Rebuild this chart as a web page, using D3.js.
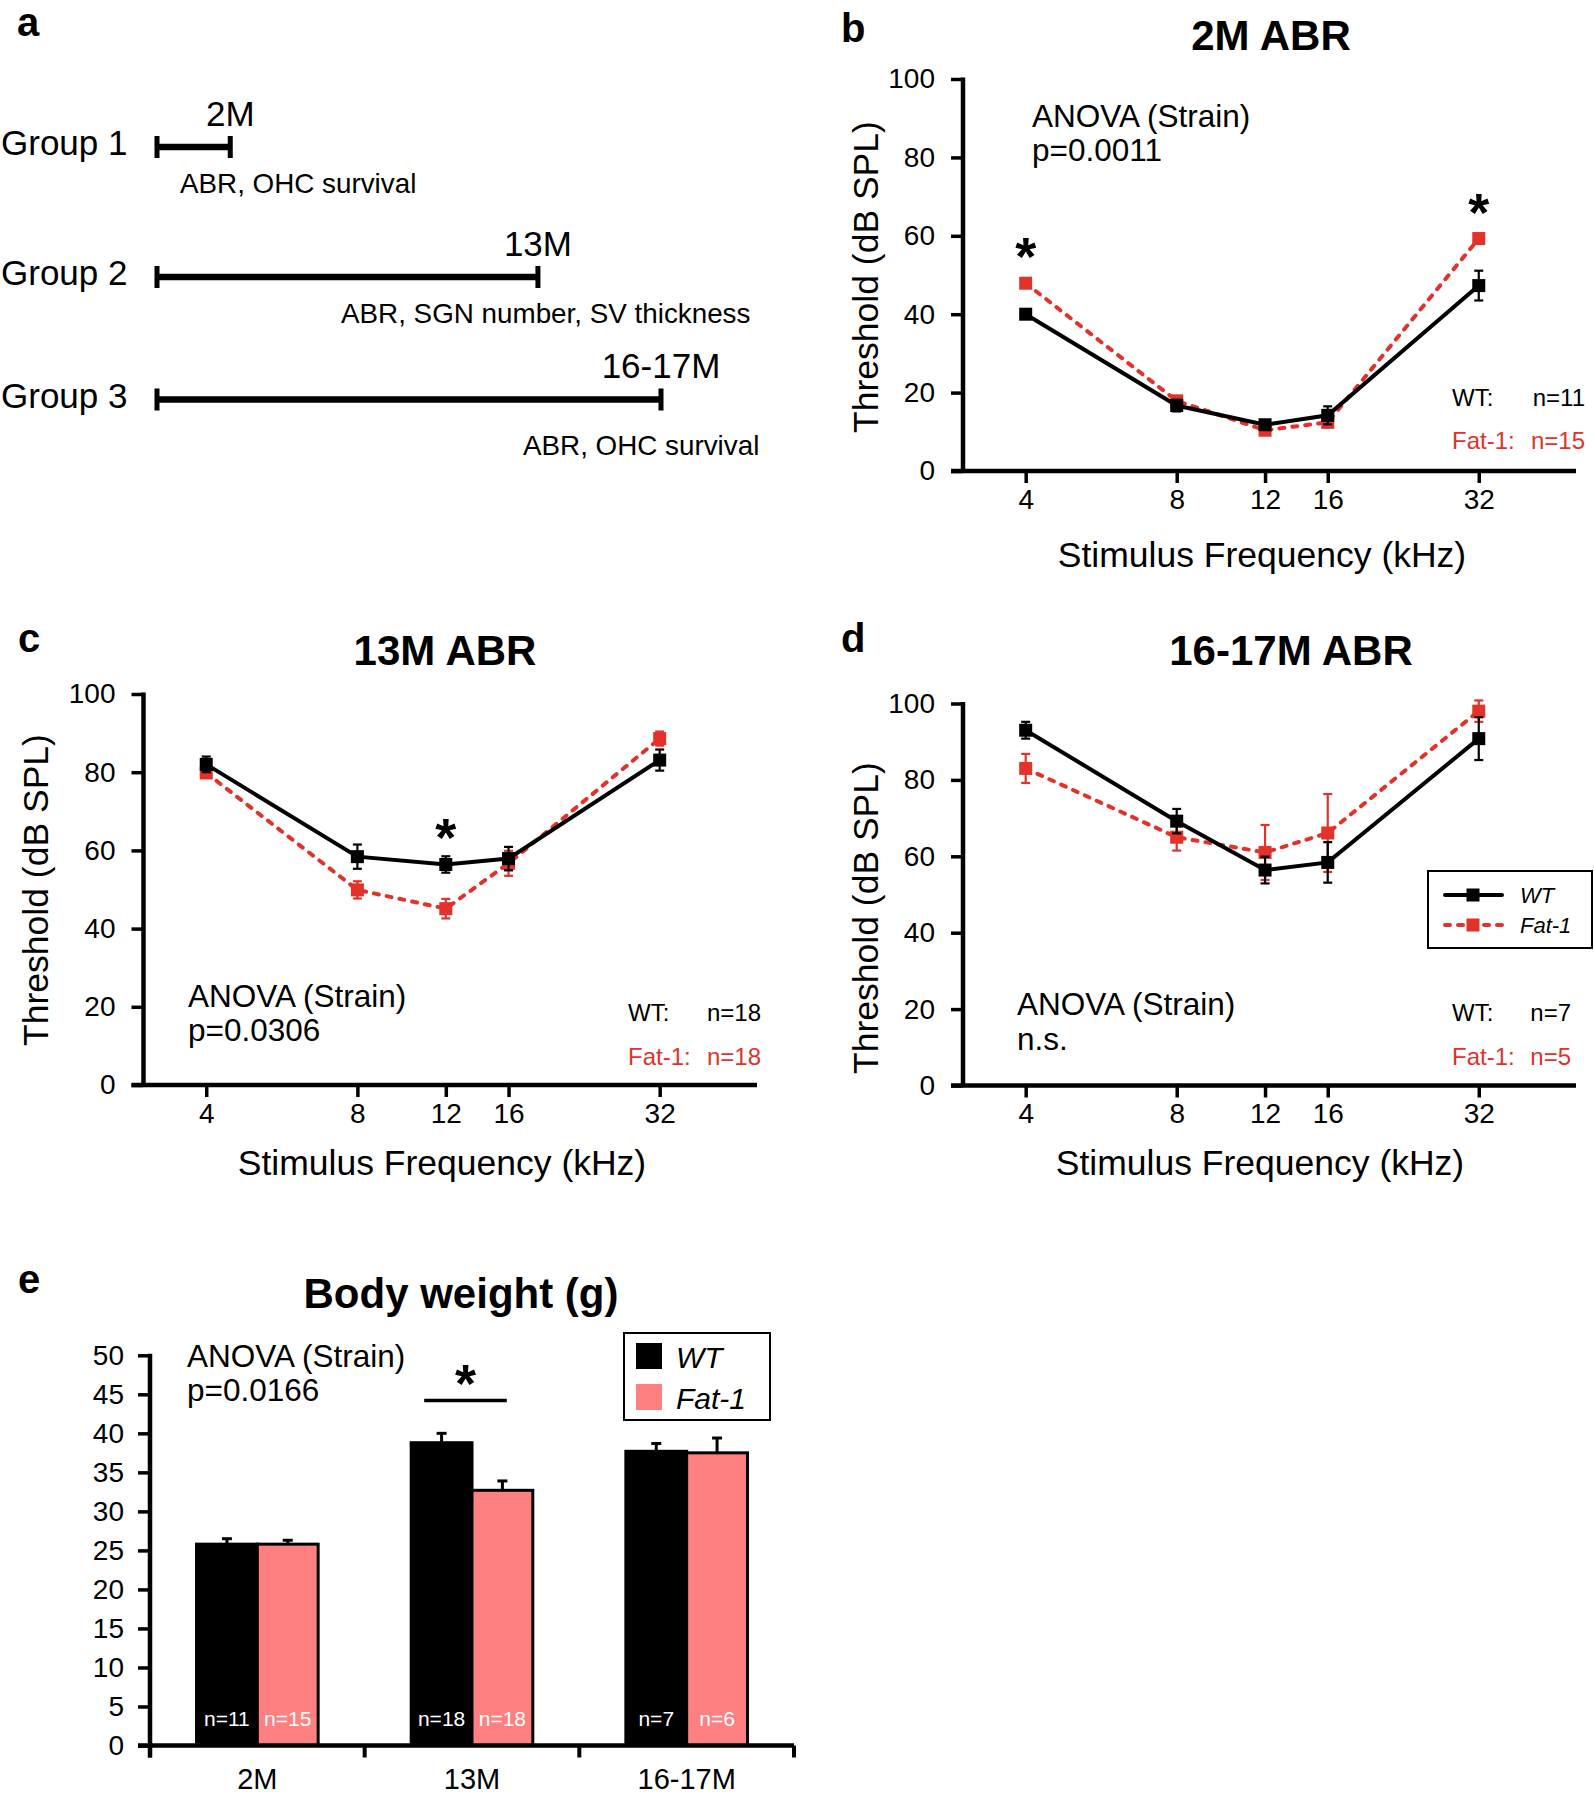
<!DOCTYPE html>
<html><head><meta charset="utf-8">
<script src="https://cdn.jsdelivr.net/npm/d3@7"></script>
<style>
body{margin:0;background:#fff}
svg{display:block}
</style>
</head><body>
<svg id="fig" width="1594" height="1799"></svg>
<script>
// ---------------- DATA ----------------
const frequencies = [4, 8, 12, 16, 32];
const freqTickLabels = ["4", "8", "12", "16", "32"];
const thresholdTicks = [0, 20, 40, 60, 80, 100];

const wt2M = [40.0, 16.7, 11.8, 14.2, 47.3];
const wt2MErr = [0.8, 1.5, 1.0, 2.3, 3.8];
const fat2M = [47.9, 17.9, 10.4, 12.4, 59.3];
const fat2MErr = [1.0, 1.0, 1.0, 1.0, 1.2];
const sig2M = [4, 32];

const wt13M = [82.0, 58.4, 56.4, 57.9, 83.1];
const wt13MErr = [2.0, 3.1, 2.1, 3.0, 2.7];
const fat13M = [79.8, 49.9, 45.1, 56.7, 88.6];
const fat13MErr = [1.0, 2.2, 2.5, 3.2, 1.8];
const sig13M = [12];

const wt16M = [93.0, 69.2, 56.4, 58.4, 90.8];
const wt16MErr = [2.2, 3.2, 3.5, 5.3, 5.6];
const fat16M = [83.0, 65.0, 61.0, 66.1, 98.0];
const fat16MErr = [3.8, 3.5, 7.2, 10.2, 2.8];
const sig16M = [];

const ageGroups = ["2M", "13M", "16-17M"];
const strains = ["WT", "Fat-1"];
const weightWT = [25.8, 38.8, 37.7];
const weightWTErr = [0.7, 1.2, 1.0];
const weightFat = [25.8, 32.7, 37.5];
const weightFatErr = [0.5, 1.2, 1.9];
const nWT = ["n=11", "n=18", "n=7"];
const nFat = ["n=15", "n=18", "n=6"];
const weightTicks = [0, 5, 10, 15, 20, 25, 30, 35, 40, 45, 50];
const sigWeight = ["13M"];

const timelineGroups = ["Group 1", "Group 2", "Group 3"];
const timelineEndMonths = [2.5, 13, 17.2];
const timelineEndLabels = ["2M", "13M", "16-17M"];
const timelineMeasures = ["ABR, OHC survival", "ABR, SGN number, SV thickness", "ABR, OHC survival"];

// ---------------- STYLE ----------------
const FONT = '"Liberation Sans", Arial, Helvetica, sans-serif';
const RED = "#E2322A";
const PINK = "#FF8080";
const DASH = "5,8";
const svg = d3.select("#fig");

function txt(parent, x, y, s, o = {}) {
  return parent.append("text").attr("x", x).attr("y", y).text(s)
    .attr("font-family", FONT).attr("font-size", o.size || 28)
    .attr("font-weight", o.weight || "normal")
    .attr("font-style", o.style || "normal")
    .attr("text-anchor", o.anchor || "start")
    .attr("fill", o.fill || "#000");
}

// ---------------- PANEL A ----------------
(function () {
  const g = svg.append("g");
  txt(g, 17, 36, "a", { size: 40, weight: "bold" });
  const x = d3.scaleLinear().domain([0, 17.2]).range([157, 661]);
  const rowY = [147, 277, 399.5];
  const measureX = [180, 341, 523];
  const measureDy = [46, 46, 55];
  timelineGroups.forEach((grp, i) => {
    const yy = rowY[i];
    txt(g, 1, yy + 8, grp, { size: 35 });
    g.append("line").attr("x1", x(0)).attr("x2", x(timelineEndMonths[i]))
      .attr("y1", yy).attr("y2", yy).attr("stroke", "#000").attr("stroke-width", 6.5);
    [0, timelineEndMonths[i]].forEach(m => {
      g.append("line").attr("x1", x(m)).attr("x2", x(m))
        .attr("y1", yy - 11).attr("y2", yy + 11).attr("stroke", "#000").attr("stroke-width", 5);
    });
    txt(g, x(timelineEndMonths[i]), yy - 21.5, timelineEndLabels[i], { size: 35, anchor: "middle" });
    txt(g, measureX[i], yy + measureDy[i], timelineMeasures[i], { size: 27.8 });
  });
})();

// ---------------- LINE PANELS ----------------
function linePanel(cfg) {
  const g = svg.append("g");
  const x = d3.scaleLog().base(2).domain([3, 50]).range([cfg.x0, cfg.x1]);
  const y = d3.scaleLinear().domain([0, 100]).range([cfg.yBot, cfg.yTop]);

  const ya = g.append("g").attr("transform", `translate(${cfg.x0},0)`)
    .call(d3.axisLeft(y).tickValues(thresholdTicks).tickSize(12).tickPadding(16).tickSizeOuter(0));
  ya.select(".domain").remove();
  ya.attr("font-family", FONT).attr("font-size", 28);
  ya.selectAll(".tick line").attr("stroke", "#000").attr("stroke-width", 3.5);
  ya.selectAll(".tick text").attr("fill", "#000");

  const xa = g.append("g").attr("transform", `translate(0,${cfg.yBot})`)
    .call(d3.axisBottom(x).tickValues(frequencies).tickFormat((d, i) => freqTickLabels[i])
      .tickSize(12).tickPadding(6).tickSizeOuter(0));
  xa.select(".domain").remove();
  xa.attr("font-family", FONT).attr("font-size", 28);
  xa.selectAll(".tick line").attr("stroke", "#000").attr("stroke-width", 3.5);
  xa.selectAll(".tick text").attr("fill", "#000");

  g.append("line").attr("x1", cfg.x0).attr("x2", cfg.x0)
    .attr("y1", y(100) - 1.5).attr("y2", cfg.yBot).attr("stroke", "#000").attr("stroke-width", 4.5);
  g.append("line").attr("x1", cfg.x0 - 12).attr("x2", cfg.x1)
    .attr("y1", cfg.yBot).attr("y2", cfg.yBot).attr("stroke", "#000").attr("stroke-width", 4.5);

  const series = [
    { v: cfg.fat, e: cfg.fatErr, color: RED, dash: DASH },
    { v: cfg.wt, e: cfg.wtErr, color: "#000", dash: null }
  ];
  const line = d3.line().x((d, i) => x(frequencies[i])).y(d => y(d));
  series.forEach(s => {
    const sg = g.append("g");
    frequencies.forEach((f, i) => {
      const xx = x(f), y1 = y(s.v[i] - s.e[i]), y2 = y(s.v[i] + s.e[i]);
      sg.append("line").attr("x1", xx).attr("x2", xx).attr("y1", y1).attr("y2", y2)
        .attr("stroke", s.color).attr("stroke-width", 2.2);
      [y1, y2].forEach(yy => sg.append("line").attr("x1", xx - 4.5).attr("x2", xx + 4.5)
        .attr("y1", yy).attr("y2", yy).attr("stroke", s.color).attr("stroke-width", 2.2));
    });
    sg.append("path").attr("d", line(s.v)).attr("fill", "none").attr("stroke", s.color)
      .attr("stroke-width", 4).attr("stroke-linecap", "round")
      .attr("stroke-dasharray", s.dash);
    sg.selectAll("rect").data(s.v).join("rect")
      .attr("x", (d, i) => x(frequencies[i]) - 6.5).attr("y", d => y(d) - 6.5)
      .attr("width", 13).attr("height", 13).attr("fill", s.color);
  });

  cfg.sig.forEach(f => {
    const i = frequencies.indexOf(f);
    const top = y(Math.max(cfg.wt[i], cfg.fat[i])) - 38;
    txt(g, x(f), top + 30, "*", { size: 54, weight: "bold", anchor: "middle" });
  });

  txt(g, cfg.letter[0], cfg.letter[1], cfg.letter[2], { size: 40, weight: "bold" });
  txt(g, cfg.title[0], cfg.title[1], cfg.title[2], { size: 42, weight: "bold", anchor: "middle" });
  txt(g, cfg.ylab[0], cfg.ylab[1], "Threshold (dB SPL)", { size: 35.5, anchor: "middle" })
    .attr("transform", `rotate(-90,${cfg.ylab[0]},${cfg.ylab[1]})`);
  txt(g, cfg.xlab[0], cfg.xlab[1], "Stimulus Frequency (kHz)", { size: 35.5, anchor: "middle" });
  txt(g, cfg.anova[0], cfg.anova[1], "ANOVA (Strain)", { size: 31.5 });
  txt(g, cfg.anova[0], cfg.anova[2], cfg.anova[3], { size: 31.5 });
  txt(g, cfg.n[0], cfg.n[2], "WT:", { size: 24 });
  txt(g, cfg.n[1], cfg.n[2], cfg.n[4], { size: 24, anchor: "end" });
  txt(g, cfg.n[0], cfg.n[3], "Fat-1:", { size: 24, fill: RED });
  txt(g, cfg.n[1], cfg.n[3], cfg.n[5], { size: 24, anchor: "end", fill: RED });

  if (cfg.legend) {
    const L = cfg.legend;
    g.append("rect").attr("x", L.x).attr("y", L.y).attr("width", L.w).attr("height", L.h)
      .attr("fill", "#fff").attr("stroke", "#000").attr("stroke-width", 2);
    [{ c: "#000", d: null, t: "WT", yy: L.y + 24 }, { c: RED, d: DASH, t: "Fat-1", yy: L.y + 54 }].forEach(it => {
      g.append("line").attr("x1", L.x + 17).attr("x2", L.x + 74).attr("y1", it.yy).attr("y2", it.yy)
        .attr("stroke", it.c).attr("stroke-width", 4).attr("stroke-linecap", "round").attr("stroke-dasharray", it.d);
      g.append("rect").attr("x", L.x + 45 - 6.5).attr("y", it.yy - 6.5).attr("width", 13).attr("height", 13).attr("fill", it.c);
      txt(g, L.x + 92, it.yy + 8, it.t, { size: 22, style: "italic" });
    });
  }
}

linePanel({
  x0: 963, x1: 1576, yTop: 79, yBot: 471,
  wt: wt2M, wtErr: wt2MErr, fat: fat2M, fatErr: fat2MErr, sig: sig2M,
  letter: [841, 42, "b"], title: [1271, 49.5, "2M ABR"],
  ylab: [878, 277], xlab: [1262, 567],
  anova: [1032, 127, 161, "p=0.0011"],
  n: [1452, 1585, 406, 449, "n=11", "n=15"]
});
linePanel({
  x0: 143.5, x1: 757, yTop: 694, yBot: 1085,
  wt: wt13M, wtErr: wt13MErr, fat: fat13M, fatErr: fat13MErr, sig: sig13M,
  letter: [18, 652, "c"], title: [445, 664.5, "13M ABR"],
  ylab: [48, 890], xlab: [442, 1175],
  anova: [188, 1007, 1041, "p=0.0306"],
  n: [628, 761, 1020.5, 1064.5, "n=18", "n=18"]
});
linePanel({
  x0: 963, x1: 1576, yTop: 703.5, yBot: 1085.5,
  wt: wt16M, wtErr: wt16MErr, fat: fat16M, fatErr: fat16MErr, sig: sig16M,
  letter: [841, 652, "d"], title: [1291, 664.5, "16-17M ABR"],
  ylab: [878, 918], xlab: [1260, 1175],
  anova: [1017, 1015, 1050, "n.s."],
  n: [1452, 1571, 1020.5, 1064.5, "n=7", "n=5"],
  legend: { x: 1428, y: 871, w: 164, h: 77 }
});

// ---------------- PANEL E ----------------
(function () {
  const g = svg.append("g");
  const x0 = 150, x1 = 794, yBot = 1745.5, yTop = 1355.3;
  const xb = d3.scaleBand().domain(ageGroups).range([x0, x1]).padding(0);
  const xs = d3.scaleBand().domain(strains).range([0, xb.bandwidth()]).paddingInner(0).paddingOuter(0.765);
  const y = d3.scaleLinear().domain([0, 50]).range([yBot, yTop]);

  const ya = g.append("g").attr("transform", `translate(${x0},0)`)
    .call(d3.axisLeft(y).tickValues(weightTicks).tickSize(12).tickPadding(14).tickSizeOuter(0));
  ya.select(".domain").remove();
  ya.attr("font-family", FONT).attr("font-size", 28);
  ya.selectAll(".tick line").attr("stroke", "#000").attr("stroke-width", 3.5);
  ya.selectAll(".tick text").attr("fill", "#000");

  const bars = [
    { s: "WT", v: weightWT, e: weightWTErr, fill: "#000", n: nWT },
    { s: "Fat-1", v: weightFat, e: weightFatErr, fill: PINK, n: nFat }
  ];
  bars.forEach(b => {
    ageGroups.forEach((cat, i) => {
      const bx = xb(cat) + xs(b.s), bw = xs.bandwidth();
      g.append("line").attr("x1", bx + bw / 2).attr("x2", bx + bw / 2)
        .attr("y1", y(b.v[i])).attr("y2", y(b.v[i] + b.e[i])).attr("stroke", "#000").attr("stroke-width", 3);
      g.append("line").attr("x1", bx + bw / 2 - 5).attr("x2", bx + bw / 2 + 5)
        .attr("y1", y(b.v[i] + b.e[i])).attr("y2", y(b.v[i] + b.e[i])).attr("stroke", "#000").attr("stroke-width", 3);
    });
  });
  bars.forEach(b => {
    g.append("g").selectAll("rect").data(b.v).join("rect")
      .attr("x", (d, i) => xb(ageGroups[i]) + xs(b.s)).attr("y", d => y(d))
      .attr("width", xs.bandwidth()).attr("height", d => yBot - y(d))
      .attr("fill", b.fill).attr("stroke", "#000").attr("stroke-width", 3);
    ageGroups.forEach((cat, i) => {
      txt(g, xb(cat) + xs(b.s) + xs.bandwidth() / 2, yBot - 20, b.n[i], { size: 21, anchor: "middle", fill: "#fff" });
    });
  });

  g.append("line").attr("x1", x0).attr("x2", x0).attr("y1", y(50) - 1.5).attr("y2", yBot + 12)
    .attr("stroke", "#000").attr("stroke-width", 4.5);
  g.append("line").attr("x1", x0 - 12).attr("x2", x1).attr("y1", yBot).attr("y2", yBot)
    .attr("stroke", "#000").attr("stroke-width", 4.5);
  const bounds = ageGroups.map(c => xb(c)).concat([x1]);
  bounds.forEach(bx => g.append("line").attr("x1", bx).attr("x2", bx).attr("y1", yBot).attr("y2", yBot + 12)
    .attr("stroke", "#000").attr("stroke-width", 4));
  ageGroups.forEach(c => txt(g, xb(c) + xb.bandwidth() / 2, 1789, c, { size: 29, anchor: "middle" }));

  sigWeight.forEach(c => {
    const sx1 = xb(c) + xs("WT") + 13, sx2 = xb(c) + xs("Fat-1") + xs.bandwidth() - 26;
    const sy = y(44.2);
    g.append("line").attr("x1", sx1).attr("x2", sx2).attr("y1", sy).attr("y2", sy)
      .attr("stroke", "#000").attr("stroke-width", 3.5);
    txt(g, (sx1 + sx2) / 2, sy - 29 + 30, "*", { size: 54, weight: "bold", anchor: "middle" });
  });

  txt(g, 18, 1293, "e", { size: 40, weight: "bold" });
  txt(g, 461, 1308, "Body weight (g)", { size: 42, weight: "bold", anchor: "middle" });
  txt(g, 187, 1366.5, "ANOVA (Strain)", { size: 31.5 });
  txt(g, 187, 1401, "p=0.0166", { size: 31.5 });

  g.append("rect").attr("x", 624).attr("y", 1333).attr("width", 146).attr("height", 87)
    .attr("fill", "#fff").attr("stroke", "#000").attr("stroke-width", 2);
  [{ c: "#000", t: "WT", yy: 1343 }, { c: PINK, t: "Fat-1", yy: 1384 }].forEach(it => {
    g.append("rect").attr("x", 636).attr("y", it.yy).attr("width", 26).attr("height", 26).attr("fill", it.c);
    txt(g, 676, it.yy + 25, it.t, { size: 30, style: "italic" });
  });
})();
</script>
</body></html>
